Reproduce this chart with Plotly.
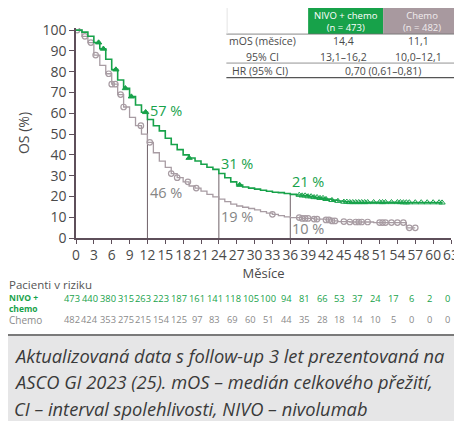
import plotly.graph_objects as go
import numpy as np

# ---- data ----
nivo_t = [0, 1, 2, 3, 4, 5, 6, 7, 8, 9, 10, 11, 12, 13, 14, 15, 16, 17, 18, 19, 20, 21, 22, 23, 24,
          25, 26, 27, 28, 29, 30, 31, 32, 33, 34, 35, 36, 37, 38, 39, 40, 41, 42, 43, 44, 45, 46, 55, 61.5]
nivo_s = [100, 99, 97, 94, 91, 86, 81, 76, 72, 68, 64, 60.5, 57, 54, 51.5, 48, 45, 42.5, 40, 38.5, 37, 35.5, 34, 33, 31,
          29, 27, 25.5, 24.5, 24, 23.5, 23, 22.5, 22, 21.8, 21.4, 21, 20.7, 20.4, 20, 19.6, 19.2, 18.7, 18.2, 17.8, 17.4, 17.2, 17.1, 17.0]
chemo_t = [0, 1, 2, 3, 4, 5, 6, 7, 8, 9, 10, 11, 12, 13, 14, 15, 16, 17, 18, 19, 20, 21, 22, 23, 24,
           25, 26, 27, 28, 29, 30, 31, 32, 33, 34, 35, 36, 38, 40, 42, 43, 44, 46, 50, 55.5, 57]
chemo_s = [100, 97, 94, 88, 83, 79, 74, 69, 63, 58, 54, 50, 46, 41, 37, 34, 31, 29, 27, 25, 24, 22.5, 21, 19.8, 18.7,
           17.5, 16.3, 15.4, 14.8, 14.2, 13.5, 12.7, 12, 11.4, 10.8, 10.2, 9.8, 9.4, 9.1, 8.7, 8.2, 7.9, 7.7, 7.4, 4.9, 4.9]

nivo_censor = [3.8, 4.6, 6.7, 8.3, 9.3, 11.7, 19, 27.5,
               37.5, 38, 38.5, 39, 39.5, 40, 40.5, 41, 41.5, 42, 43, 44, 45, 45.5, 46, 46.5, 47, 47.5,
               48, 48.5, 49, 50, 51, 51.5, 52, 53, 54, 54.5, 55, 55.5, 56, 57, 58, 59, 60, 61, 61.5]
chemo_censor = [0.2, 1.5, 2.5, 3.3, 5.5, 6.0, 6.6, 7.5, 8.0, 10.9, 12.4, 16, 17, 18.8, 20.2, 33,
                37.5, 38, 38.5, 39, 40, 40.5, 42, 42.5, 43, 43.5, 45, 46, 47, 47.5, 48, 49, 51, 51.5,
                52, 53, 54, 55, 56, 57]

landmarks = [12, 24, 36]
nivo_pct = ["57 %", "31 %", "21 %"]
chemo_pct = ["46 %", "19 %", "10 %"]
nivo_landmark_s = [57, 31, 21]

risk_months = list(range(0, 64, 3))
risk_nivo = [473, 440, 380, 315, 263, 223, 187, 161, 141, 118, 105, 100, 94, 81, 66, 53, 37, 24, 17, 6, 2, 0]
risk_chemo = [482, 424, 353, 275, 215, 154, 125, 97, 83, 69, 60, 51, 44, 35, 28, 18, 14, 10, 5, 0, 0, 0]

caption_lines = ["Aktualizovaná data s follow-up 3 let prezentovaná na",
                 "ASCO GI 2023 (25). mOS – medián celkového přežití,",
                 "CI – interval spolehlivosti, NIVO – nivolumab"]

GREEN = "#17a24a"
GRAY = "#a89ca3"
AXIS = "#5e4f5a"
TXT = "#4a4a4a"
FONT = "Open Sans"


def step_at(ts, ss, t):
    idx = np.searchsorted(np.array(ts), t, side="right") - 1
    return ss[max(idx, 0)]


fig = go.Figure()

# landmark vertical lines
for lm, s in zip(landmarks, nivo_landmark_s):
    fig.add_trace(go.Scatter(x=[lm, lm], y=[0, s], mode="lines",
                             line=dict(color="#6f6168", width=1), hoverinfo="skip", showlegend=False))

fig.add_trace(go.Scatter(x=chemo_t, y=chemo_s, mode="lines", line=dict(color=GRAY, width=1.3, shape="hv"),
                         showlegend=False))
fig.add_trace(go.Scatter(x=chemo_censor, y=[step_at(chemo_t, chemo_s, t) for t in chemo_censor],
                         mode="markers", marker=dict(symbol="circle-open", size=5.5, color=GRAY,
                                                     line=dict(width=1.2, color=GRAY)), showlegend=False))
fig.add_trace(go.Scatter(x=nivo_t, y=nivo_s, mode="lines", line=dict(color=GREEN, width=1.6, shape="hv"),
                         showlegend=False))
fig.add_trace(go.Scatter(x=nivo_censor, y=[step_at(nivo_t, nivo_s, t) for t in nivo_censor],
                         mode="markers",
                         marker=dict(symbol=["triangle-up" if t < 30 else "triangle-up-open" for t in nivo_censor],
                                     size=5.5, color=GREEN, line=dict(width=1, color=GREEN)), showlegend=False))

ann = []


def A(**kw):
    kw.setdefault("showarrow", False)
    kw.setdefault("xanchor", "center")
    kw.setdefault("yanchor", "middle")
    ann.append(kw)


# percentage labels
nivo_lab_xy = [(15.2, 61.5), (27.1, 36), (38.9, 27.3)]
chemo_lab_xy = [(15.2, 22), (27.1, 10.3), (38.9, 4.6)]
for (x, y), t in zip(nivo_lab_xy, nivo_pct):
    A(x=x, y=y, xref="x", yref="y", text=t, font=dict(family=FONT, size=14.5, color=GREEN))
for (x, y), t in zip(chemo_lab_xy, chemo_pct):
    A(x=x, y=y, xref="x", yref="y", text=t, font=dict(family=FONT, size=14.5, color="#858585"))

# risk table
A(x=-0.185, y=-0.22, xref="paper", yref="paper", text="Pacienti v riziku", xanchor="left",
  font=dict(family=FONT, size=11.5, color="#555"))
A(x=-0.185, y=-0.31, xref="paper", yref="paper", text="<b>NIVO +<br>chemo</b>", xanchor="left", align="left",
  font=dict(family=FONT, size=8.5, color=GREEN))
A(x=-0.185, y=-0.39, xref="paper", yref="paper", text="Chemo", xanchor="left",
  font=dict(family=FONT, size=10, color="#8a8a8a"))
for m, a, b in zip(risk_months, risk_nivo, risk_chemo):
    A(x=m, xshift=-4, y=-0.29, xref="x", yref="paper", text=str(a),
      font=dict(family=FONT, size=9.3, color=GREEN))
    A(x=m, xshift=-4, y=-0.39, xref="x", yref="paper", text=str(b),
      font=dict(family=FONT, size=9.3, color="#8a8a8a"))

# summary table (top right)
A(x=0.719, y=1.033, xref="paper", yref="paper", text="NIVO + chemo<br>(n = 473)",
  font=dict(family=FONT, size=9.5, color="white"))
A(x=0.922, y=1.033, xref="paper", yref="paper", text="Chemo<br>(n = 482)",
  font=dict(family=FONT, size=9.5, color="#f0ecee"))
rows = [("mOS (měsíce)", "14,4", "11,1", 0.938),
        ("95% CI", "13,1–16,2", "10,0–12,1", 0.862)]
for lab, a, b, y in rows:
    A(x=0.496, y=y, xref="paper", yref="paper", text=lab, font=dict(family=FONT, size=10.5, color=TXT))
    A(x=0.712, y=y, xref="paper", yref="paper", text=a, font=dict(family=FONT, size=10.5, color=TXT))
    A(x=0.912, y=y, xref="paper", yref="paper", text=b, font=dict(family=FONT, size=10.5, color=TXT))
A(x=0.49, y=0.795, xref="paper", yref="paper", text="HR (95% CI)", font=dict(family=FONT, size=10.5, color=TXT))
A(x=0.818, y=0.795, xref="paper", yref="paper", text="0,70 (0,61–0,81)",
  font=dict(family=FONT, size=10.5, color=TXT))

# caption (one annotation per line)
for i, line in enumerate(caption_lines):
    A(x=-0.171, y=-0.558 - i * 0.127, xref="paper", yref="paper", text="<i>" + line + "</i>",
      xanchor="left", align="left", font=dict(family=FONT, size=18.3, color="#3a3a3a"))

shapes = [
    dict(type="rect", xref="paper", yref="paper", x0=0.619, x1=0.819, y0=0.971, y1=1.095,
         fillcolor=GREEN, line=dict(width=0), layer="below"),
    dict(type="rect", xref="paper", yref="paper", x0=0.819, x1=1.025, y0=0.971, y1=1.095,
         fillcolor="#a8999f", line=dict(width=0), layer="below"),
    dict(type="line", xref="paper", yref="paper", x0=0.401, x1=1.025, y0=0.971, y1=0.971,
         line=dict(color="#6a6a6a", width=0.8)),
    dict(type="line", xref="paper", yref="paper", x0=0.401, x1=1.025, y0=0.833, y1=0.833,
         line=dict(color="#777", width=0.8)),
    dict(type="line", xref="paper", yref="paper", x0=0.401, x1=1.025, y0=0.764, y1=0.764,
         line=dict(color="#555", width=1.2)),
    dict(type="line", xref="paper", yref="paper", x0=0.403, x1=0.403, y0=0.971, y1=1.095,
         line=dict(color="#dddddd", width=0.8)),
    # caption box
    dict(type="rect", xref="paper", yref="paper", x0=-0.25, x1=1.04, y0=-0.95, y1=-0.462,
         fillcolor="#e6e6e7", line=dict(width=0), layer="below"),
    dict(type="line", xref="paper", yref="paper", x0=-0.25, x1=1.04, y0=-0.462, y1=-0.462,
         line=dict(color="#7a7a7a", width=2)),
]

# the page body adds an 8 px offset, so the figure is 8 px smaller on each side
fig.update_layout(
    width=454, height=413,
    margin=dict(l=68, r=10.5, t=20, b=183, autoexpand=False),
    paper_bgcolor="white", plot_bgcolor="white",
    font=dict(family=FONT, color=TXT),
    annotations=ann, shapes=shapes,
    xaxis=dict(range=[0, 63], tickmode="array", tickvals=risk_months, tickangle=0, automargin=False,
               ticklabeloverflow="allow",
               showgrid=False, zeroline=False,
               showline=True, linecolor=AXIS, linewidth=1.5, ticks="outside", ticklen=4, tickcolor=AXIS,
               tickfont=dict(family=FONT, size=13.8, color=TXT),
               title=dict(text="Měsíce", font=dict(family=FONT, size=13, color=TXT), standoff=5)),
    yaxis=dict(range=[0, 101], tickvals=list(range(0, 101, 10)), showgrid=False, zeroline=False,
               automargin=False,
               showline=True, linecolor=AXIS, linewidth=1.5, ticks="outside", ticklen=5, tickcolor=AXIS,
               tickfont=dict(family=FONT, size=14, color=TXT),
               title=dict(text="OS (%)", font=dict(family=FONT, size=14, color=TXT), standoff=10)),
)

fig.write_html("out.html")
